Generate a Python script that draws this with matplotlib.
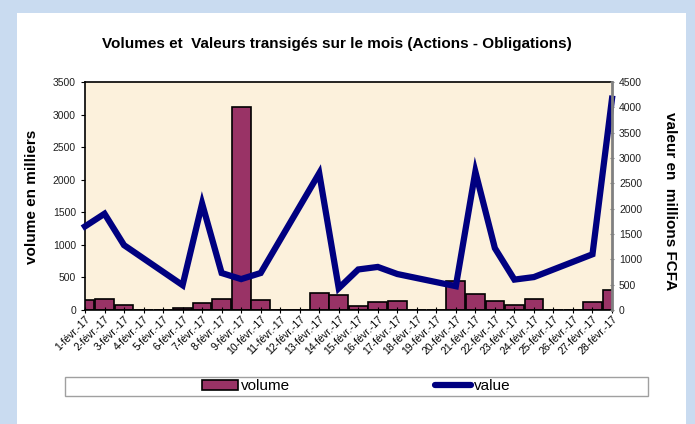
import numpy as np
import matplotlib.pyplot as plt
from matplotlib.patches import Rectangle, Patch
from matplotlib.lines import Line2D

plt.rcParams['font.family'] = ['Liberation Sans', 'DejaVu Sans']

# jours de février 2017
jours = [f'{d}-févr.-17' for d in range(1, 29)]

# volume en milliers (0 les week-ends)
volume = [160, 175, 75, 0, 0, 35, 110, 170, 3120, 150,
          0, 0, 260, 235, 55, 120, 145, 0, 0, 440,
          245, 145, 80, 170, 0, 0, 130, 300]

# valeur en millions FCFA (None = pas de séance)
valeur = [1650, 1900, 1280, None, None, 490, 2100, 730, 610, 730,
          None, None, 2700, 430, 800, 850, 710, None, None, 470,
          2730, 1220, 600, 650, None, None, 1100, 4170]

W, H = 695, 424
fig = plt.figure(figsize=(W / 100, H / 100), dpi=100)
fig.patch.set_facecolor('#c9dbf0')
fig.add_artist(Rectangle((17 / W, 0), (686 - 17) / W, 1 - 13 / H,
                         transform=fig.transFigure, facecolor='white',
                         edgecolor='none', zorder=0))

ax = fig.add_axes([85 / W, 1 - 310 / H, (612 - 85) / W, (310 - 82) / H])
ax.set_facecolor('#fcf1dc')
x = np.arange(len(jours))
ax.bar(x, volume, width=0.96, color='#993366', edgecolor='black', linewidth=1.2)
ax.set_xlim(0, len(jours) - 1)
ax.set_ylim(0, 3500)
ax.set_yticks(range(0, 3501, 500))
ax.set_xticks(x)
ax.set_xticklabels(jours, rotation=45, ha='right', rotation_mode='anchor', fontsize=7.5)
ax.tick_params(axis='y', labelsize=7.5, length=3, labelcolor='#202020')
ax.tick_params(axis='x', length=4, direction='inout', pad=1)
for s in ['left', 'top', 'bottom']:
    ax.spines[s].set_linewidth(1.2)
ax.spines['right'].set_visible(False)

ax2 = ax.twinx()
xv = [i for i, v in enumerate(valeur) if v is not None]
yv = [v for v in valeur if v is not None]
ax2.plot(xv, yv, color='#000080', linewidth=4.5, solid_joinstyle='miter', clip_on=False)
ax2.set_ylim(0, 4500)
ax2.set_yticks(range(0, 4501, 500))
ax2.tick_params(axis='y', labelsize=7.5, length=3, direction='inout', color='#808080',
                labelcolor='#202020')
ax2.spines['right'].set_color('#808080')
ax2.spines['right'].set_linewidth(2)
for s in ['left', 'top', 'bottom']:
    ax2.spines[s].set_visible(False)

fig.text(337 / W, 1 - 44 / H, 'Volumes et  Valeurs transigés sur le mois (Actions - Obligations)',
         ha='center', va='center', fontsize=11, fontweight='bold')
fig.text(32 / W, 1 - 197 / H, 'volume en milliers', rotation=90,
         ha='center', va='center', fontsize=11, fontweight='bold')
fig.text(670 / W, 1 - 201 / H, 'valeur en  millions FCFA', rotation=-90,
         ha='center', va='center', fontsize=11, fontweight='bold')

# légende
fig.add_artist(Rectangle((65 / W, 1 - 396 / H), (648 - 65) / W, 19 / H,
                         transform=fig.transFigure, facecolor='white',
                         edgecolor='#a0a0a0', linewidth=1))
handles = [Patch(facecolor='#993366', edgecolor='black', linewidth=1.2),
           Line2D([], [], color='#000080', linewidth=4.5, solid_capstyle='round')]
fig.legend(handles, ['volume', 'value'], loc='center', ncol=2, frameon=False,
           bbox_to_anchor=(356 / W, 1 - 386.5 / H), fontsize=11,
           handlelength=2.4, handletextpad=0.15, columnspacing=9.5, handleheight=0.6)

fig.savefig('out.png', dpi=100, facecolor=fig.get_facecolor())
